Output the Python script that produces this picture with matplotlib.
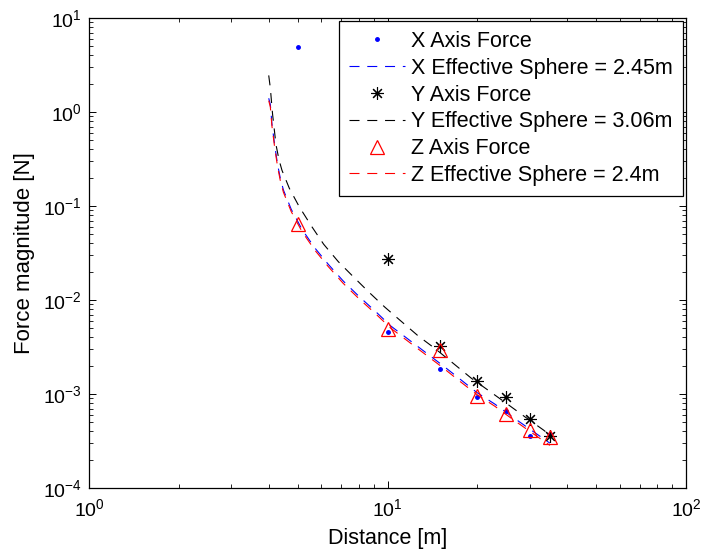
import matplotlib
matplotlib.use('Agg')
from matplotlib import pyplot as plt

plt.rcParams['font.family'] = ['Liberation Sans', 'DejaVu Sans']
plt.rcParams['mathtext.fontset'] = 'custom'
plt.rcParams['mathtext.rm'] = 'Liberation Sans'
plt.rcParams['mathtext.it'] = 'Liberation Sans:italic'

# Measured forces at each distance [m]
x_dist = [5, 10, 15, 20, 25, 30, 35]
x_force = [4.9, 0.0046, 0.00185, 0.00093, 0.00066, 0.00036, 0.00038]

y_dist = [10, 15, 20, 25, 30, 35]
y_force = [0.0271, 0.00324, 0.00139, 0.00094, 0.00054, 0.00036]

z_dist = [5, 10, 15, 20, 25, 30, 35]
z_force = [0.065, 0.0049, 0.00294, 0.00095, 0.00061, 0.00041, 0.00035]

# Effective sphere fits
fit_x_dist = [4.0, 4.05, 4.10, 4.19, 4.28, 4.37, 4.48, 4.76, 5.17, 5.70, 6.33, 7.11,
              8.03, 9.08, 10.25, 11.74, 15.38, 17.5, 19.9, 22.9, 26.4, 30.0, 35.0]
fit_x_force = [1.40, 1.20, 0.75, 0.44, 0.28, 0.20, 0.148, 0.092, 0.0565, 0.0360,
               0.0240, 0.0159, 0.0109, 0.00765, 0.00530, 0.00382, 0.00199,
               0.00144, 0.00104, 0.00078, 0.000562, 0.000422, 0.000300]
fit_z_force = [1.32, 1.13, 0.71, 0.415, 0.265, 0.189, 0.140, 0.087, 0.0535, 0.0341,
               0.0227, 0.0150, 0.0103, 0.00724, 0.00502, 0.00362, 0.00189,
               0.00136, 0.00099, 0.00074, 0.000532, 0.000400, 0.000284]

fit_y_dist = [4.0, 4.05, 4.12, 4.23, 4.33, 4.43, 4.69, 5.06, 5.56, 6.11, 6.84, 7.68,
              8.63, 9.81, 11.16, 12.68, 14.4, 16.6, 19.1, 21.8, 25.1, 28.9, 33.3, 35.0]
fit_y_force = [2.45, 1.80, 0.95, 0.45, 0.31, 0.24, 0.154, 0.0984, 0.0612, 0.0392,
               0.0256, 0.0177, 0.01226, 0.00836, 0.00587, 0.00414, 0.00306,
               0.00212, 0.00147, 0.00109, 0.00079, 0.00057, 0.000414, 0.000365]

labels = ['X Axis Force', 'X Effective Sphere = 2.45m',
          'Y Axis Force', 'Y Effective Sphere = 3.06m',
          'Z Axis Force', 'Z Effective Sphere = 2.4m']

fig = plt.figure(figsize=(7.02, 5.55), dpi=100)
ax = fig.add_axes([0.1268, 0.1207, 0.8504, 0.8469])

dash = (9, 7)
ax.plot(x_dist, x_force, '.', color='blue', markersize=5, label=labels[0])
ax.plot(fit_x_dist, fit_x_force, '--', color='blue', lw=0.8, dashes=dash, label=labels[1])
ax.plot(y_dist, y_force, linestyle='none', marker=(8, 2, 0), color='black',
        markersize=9, markeredgewidth=0.8, label=labels[2])
ax.plot(fit_y_dist, fit_y_force, '--', color='black', lw=0.8, dashes=dash, label=labels[3])
ax.plot(z_dist, z_force, '^', markerfacecolor='none', markeredgecolor='red',
        markersize=10, markeredgewidth=0.9, label=labels[4])
ax.plot(fit_x_dist, fit_z_force, '--', color='red', lw=0.8, dashes=dash, label=labels[5])

ax.set_xscale('log')
ax.set_yscale('log')
ax.set_xlim(1, 100)
ax.set_ylim(1e-4, 10)

ax.tick_params(which='both', direction='in', top=True, right=True, labelsize=14)
ax.tick_params(which='major', length=5, width=0.7)
ax.tick_params(which='minor', length=3, width=0.6)
ax.tick_params(axis='x', pad=7)
ax.tick_params(axis='y', pad=5)
for s in ax.spines.values():
    s.set_linewidth(0.9)

ax.set_xlabel('Distance [m]', fontsize=15.5, labelpad=6)
ax.set_ylabel('Force magnitude [N]', fontsize=16, labelpad=6)

leg = ax.legend(loc='upper right', fontsize=15.5, fancybox=False, framealpha=1,
                edgecolor='black', borderaxespad=0.15, labelspacing=0.27,
                handlelength=2.6, handletextpad=0.3, borderpad=0.45)
leg.get_frame().set_linewidth(0.9)

fig.savefig('out.png', dpi=100)
